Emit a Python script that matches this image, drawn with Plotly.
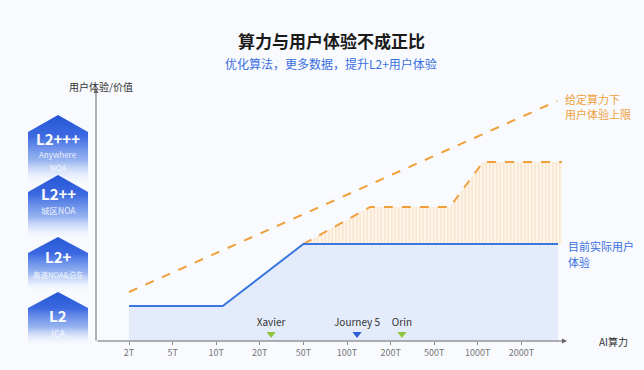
import plotly.graph_objects as go

W, H = 644, 370

# ---- data ----
tick_labels = ["2T", "5T", "10T", "20T", "50T", "100T", "200T", "500T", "1000T", "2000T"]
tick_pos = list(range(len(tick_labels)))

actual_x = [0, 2.15, 4.0, 9.84]
actual_y = [35, 35, 97, 97]

upper_x = [0, 9.82]
upper_y = [49, 240]

potential_x = [4.0, 5.53, 7.36, 8.12, 9.93]
potential_y = [97, 134, 134, 179, 179]

chips = ["Xavier", "Journey 5", "Orin"]
chip_x = [3.26, 5.23, 6.26]
chip_colors = ["#8cc63f", "#2f5fd8", "#8cc63f"]

levels = ["L2+++", "L2++", "L2+", "L2"]
level_sub = [["Anywhere", "NOA"], ["城区NOA"], ["高速NOA&泊车"], ["ICA"]]

FONT = "Noto Sans CJK SC"
BLUE = "#3a76e0"
ORANGE = "#f0a03a"

fig = go.Figure()

# left level badges (xaxis2/yaxis2 = pixel space)
badge_geo = [  # peak, shoulder, bottom (pixel y)
    (115, 132, 185),
    (175, 192, 240),
    (237, 253, 292),
    (292, 308, 346),
]
for (pk, sh, bt) in badge_geo:
    xs = [28, 58, 88, 88, 28, 28]
    ys = [H - sh, H - pk, H - sh, H - bt, H - bt, H - sh]
    fig.add_trace(go.Scatter(
        x=xs, y=ys, xaxis="x2", yaxis="y2", mode="lines", fill="toself",
        line=dict(width=0, color="rgba(0,0,0,0)"),
        fillgradient=dict(type="vertical",
                          colorscale=[[0, "rgba(240,245,255,0)"], [0.35, "rgba(110,150,235,0.7)"],
                                      [0.7, "rgb(60,105,225)"], [1, "rgb(36,86,212)"]],
                          start=H - bt, stop=H - pk),
        hoverinfo="skip", showlegend=False))

# fill under actual
fig.add_trace(go.Scatter(x=actual_x, y=actual_y, mode="lines", fill="tozeroy",
                         fillcolor="#e4ecfb", line=dict(width=0), hoverinfo="skip", showlegend=False))
# hatch area between actual and potential
base_x = [potential_x[0], potential_x[-1]]
base_y = [potential_y[0], potential_y[0]]
fig.add_trace(go.Scatter(x=base_x, y=base_y, mode="lines", line=dict(width=0),
                         hoverinfo="skip", showlegend=False))
fig.add_trace(go.Scatter(x=potential_x, y=potential_y, mode="lines", fill="tonexty",
                         fillcolor="#fdf3e6",
                         fillpattern=dict(shape="|", size=3.5, solidity=0.35,
                                          fgcolor="#f3c996", bgcolor="#fdf6ec"),
                         line=dict(width=2, color=ORANGE, dash="dash"),
                         hoverinfo="skip", showlegend=False))
# actual line
fig.add_trace(go.Scatter(x=actual_x, y=actual_y, mode="lines",
                         line=dict(width=2, color=BLUE), showlegend=False))
# upper bound line
fig.add_trace(go.Scatter(x=upper_x, y=upper_y, mode="lines",
                         line=dict(width=2, color=ORANGE, dash="dash"), showlegend=False))
# chip markers
fig.add_trace(go.Scatter(x=chip_x, y=[7] * 3, mode="markers+text",
                         marker=dict(symbol="triangle-down", size=8, color=chip_colors),
                         text=chips, textposition="top center",
                         textfont=dict(size=10, color="#333", family=FONT),
                         showlegend=False))

x0 = -33 / 43.6
x1 = (563 - 129) / 43.6
fig.update_layout(
    width=W, height=H, margin=dict(l=0, r=0, t=0, b=0),
    paper_bgcolor="#f8fafe", plot_bgcolor="rgba(0,0,0,0)",
    font=dict(family=FONT),
    xaxis=dict(domain=[96 / W, 563 / W], range=[x0, x1], tickvals=tick_pos, ticktext=tick_labels,
               ticks="outside", ticklen=3, tickcolor="#888", showgrid=False, zeroline=False,
               showline=False, tickfont=dict(size=9, color="#777", family=FONT), anchor="y"),
    yaxis=dict(domain=[(H - 341) / H, (H - 91) / H], range=[0, 250], showgrid=False,
               zeroline=False, showticklabels=False, showline=False, anchor="x"),
    xaxis2=dict(domain=[0, 1], range=[0, W], visible=False, anchor="y2"),
    yaxis2=dict(domain=[0, 1], range=[0, H], visible=False, anchor="x2"),
)

ann = []
def px(x, y, text, size, color, bold=False, xanchor="center", yanchor="middle", align="center"):
    t = f"<b>{text}</b>" if bold else text
    ann.append(dict(x=x / W, y=1 - y / H, xref="paper", yref="paper", text=t, showarrow=False,
                    font=dict(size=size, color=color, family=FONT), xanchor=xanchor,
                    yanchor=yanchor, align=align))

px(331, 41, "算力与用户体验不成正比", 17, "#1a1a1a", bold=True)
px(331, 63, "优化算法，更多数据，提升L2+用户体验", 12, "#3a6fe0")
px(101, 86, "用户体验/价值", 10, "#333")
px(613, 341, "AI算力", 10, "#333")
px(563, 99, "给定算力下", 11, ORANGE, xanchor="left")
px(563, 114, "用户体验上限", 11, ORANGE, xanchor="left")
px(566, 246, "目前实际用户", 11, "#3a6fe0", xanchor="left")
px(566, 262, "体验", 11, "#3a6fe0", xanchor="left")

# badge labels
lvl_y = [139, 193, 256, 315]
sub_y = [[155, 167], [210], [274], [333]]
sub_size = [8, 8.5, 7.5, 9]
for i in range(4):
    px(58, lvl_y[i], levels[i], 15, "white", bold=True)
    for j, s in enumerate(level_sub[i]):
        px(58, sub_y[i][j], s, sub_size[i], "rgba(255,255,255,0.85)")

# axis arrows
ann.append(dict(x=96 / W, y=1 - 88 / H, xref="paper", yref="paper", ax=0, ay=254,
                axref="pixel", ayref="pixel", text="", showarrow=True, arrowhead=2,
                arrowsize=1, arrowwidth=1, arrowcolor="#666"))
ann.append(dict(x=567 / W, y=1 - 341 / H, xref="paper", yref="paper", ax=-471, ay=0,
                axref="pixel", ayref="pixel", text="", showarrow=True, arrowhead=2,
                arrowsize=1, arrowwidth=1, arrowcolor="#666"))
fig.update_layout(annotations=ann)

fig.write_html("out.html")
